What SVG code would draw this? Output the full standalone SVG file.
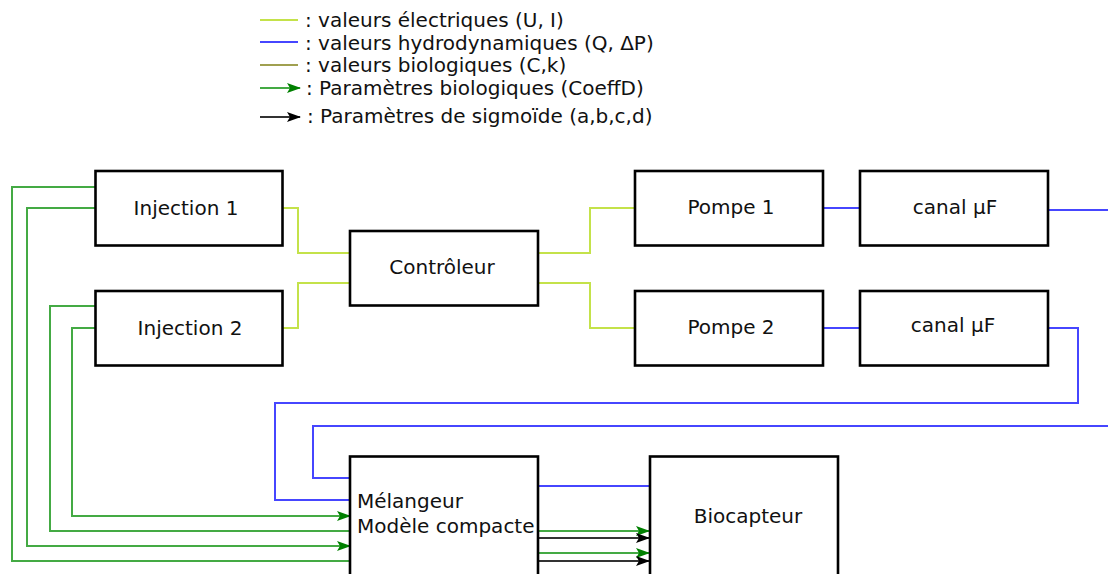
<svg xmlns="http://www.w3.org/2000/svg" width="1108" height="574" viewBox="0 0 1108 574">
<style>
.box{fill:#fff;stroke:#000;stroke-width:2.6}
.t{font-family:"DejaVu Sans",sans-serif;font-size:20px;fill:#111}
.m{text-anchor:middle}
.el{fill:none;stroke:#c4e24a;stroke-width:2}
.hy{fill:none;stroke:#4646ff;stroke-width:2}
.bio{fill:none;stroke:#a0a050;stroke-width:2}
.gr{fill:none;stroke:#44aa44;stroke-width:2}
.bk{fill:none;stroke:#333;stroke-width:2}
</style>
<defs>
<marker id="ag" markerWidth="14" markerHeight="10" viewBox="0 0 14 10" refX="13" refY="5" orient="auto" markerUnits="userSpaceOnUse">
<path d="M0,0 L14,5 L0,10 L3,5 Z" fill="#008000"/>
</marker>
<marker id="ab" markerWidth="14" markerHeight="10" viewBox="0 0 14 10" refX="13" refY="5" orient="auto" markerUnits="userSpaceOnUse">
<path d="M0,0 L14,5 L0,10 L3,5 Z" fill="#000"/>
</marker>
</defs>
<g id="legend">
<line class="el" x1="260" y1="20" x2="298" y2="20"/>
<line class="hy" x1="260" y1="42" x2="298" y2="42"/>
<line class="bio" x1="260" y1="65" x2="298" y2="65"/>
<line class="gr" x1="260" y1="88" x2="300" y2="88" marker-end="url(#ag)"/>
<line class="bk" x1="260" y1="117" x2="300" y2="117" marker-end="url(#ab)"/>
<text class="t" x="305" y="27">: valeurs électriques (U, I)</text>
<text class="t" x="305" y="50">: valeurs hydrodynamiques (Q, ΔP)</text>
<text class="t" x="305" y="72">: valeurs biologiques (C,k)</text>
<text class="t" x="306" y="95">: Paramètres biologiques (CoeffD)</text>
<text class="t" x="307" y="123">: Paramètres de sigmoïde (a,b,c,d)</text>
</g>
<g id="connectors">
<polyline class="el" points="283,208 298,208 298,253 350,253"/>
<polyline class="el" points="283,328 298,328 298,283 350,283"/>
<polyline class="el" points="538,253 590,253 590,208 635,208"/>
<polyline class="el" points="538,283 590,283 590,328 635,328"/>
<line class="hy" x1="823" y1="208" x2="860" y2="208"/>
<line class="hy" x1="1048" y1="210" x2="1108" y2="210"/>
<line class="hy" x1="823" y1="328" x2="860" y2="328"/>
<polyline class="hy" points="1048,328 1078,328 1078,403 275,403 275,500 350,500"/>
<polyline class="hy" points="1108,426 313,426 313,478 350,478"/>
<line class="hy" x1="538" y1="486" x2="650" y2="486"/>
<polyline class="gr" points="95,187 12,187 12,561 350,561"/>
<polyline class="gr" points="95,208 27,208 27,546 350,546" marker-end="url(#ag)"/>
<polyline class="gr" points="95,306 50,306 50,531 350,531"/>
<polyline class="gr" points="95,328 72,328 72,516 350,516" marker-end="url(#ag)"/>
<line class="gr" x1="538" y1="531" x2="649" y2="531" marker-end="url(#ag)"/>
<line class="bk" x1="538" y1="538" x2="649" y2="538" marker-end="url(#ab)"/>
<line class="gr" x1="538" y1="553" x2="649" y2="553" marker-end="url(#ag)"/>
<line class="bk" x1="538" y1="561" x2="649" y2="561" marker-end="url(#ab)"/>
</g>
<g id="injection1"><rect class="box" x="95.5" y="171" width="187" height="74.5"/><text class="t m" x="186" y="215">Injection 1</text></g>
<g id="injection2"><rect class="box" x="95.5" y="291" width="187" height="74.5"/><text class="t m" x="190" y="335">Injection 2</text></g>
<g id="controleur"><rect class="box" x="350" y="231" width="188" height="74.5"/><text class="t m" x="442" y="274">Contrôleur</text></g>
<g id="pompe1"><rect class="box" x="635" y="171" width="188" height="74.5"/><text class="t m" x="731" y="214">Pompe 1</text></g>
<g id="pompe2"><rect class="box" x="635" y="291" width="188" height="74.5"/><text class="t m" x="731" y="334">Pompe 2</text></g>
<g id="canal1"><rect class="box" x="860" y="171" width="188" height="74.5"/><text class="t m" x="955" y="214">canal µF</text></g>
<g id="canal2"><rect class="box" x="860" y="291" width="188" height="74.5"/><text class="t m" x="953" y="332">canal µF</text></g>
<g id="melangeur"><rect class="box" x="350" y="456.5" width="188" height="130"/><text class="t" x="357" y="508">Mélangeur</text><text class="t" x="357" y="533">Modèle compacte</text></g>
<g id="biocapteur"><rect class="box" x="650" y="456.5" width="188" height="130"/><text class="t m" x="748" y="523">Biocapteur</text></g>
</svg>
